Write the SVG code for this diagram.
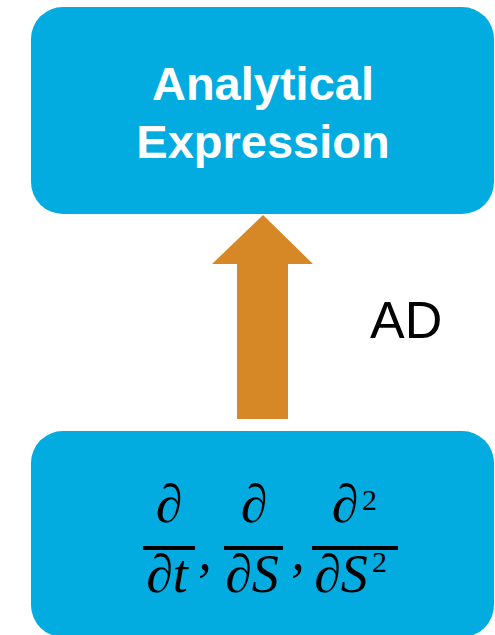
<svg xmlns="http://www.w3.org/2000/svg" width="495" height="635" viewBox="0 0 495 635">
  <style>
    .box { fill: #02ABE0; }
    .title { font-family: "Liberation Sans", Arial, sans-serif; font-weight: bold; font-size: 47px; fill: #FFFFFF; text-anchor: middle; }
    .math { font-family: "Liberation Serif", "Times New Roman", serif; font-style: italic; font-size: 54px; fill: #000000; text-anchor: middle; }
    .sup { font-family: "Liberation Serif", "Times New Roman", serif; font-size: 30px; fill: #000000; }
    .bar { stroke: #000000; stroke-width: 4; }
    .label { font-family: "Liberation Sans", Arial, sans-serif; font-size: 52px; fill: #000000; }
    .arrow { fill: #D78826; }
  </style>
  <rect width="495" height="635" fill="#FFFFFF"/>
  <g id="node-analytical-expression">
    <rect class="box" x="31" y="7" width="463" height="207" rx="32" ry="32"/>
    <text class="title" x="263" y="100">Analytical</text>
    <text class="title" x="263" y="158">Expression</text>
  </g>
  <g id="node-derivatives">
    <rect class="box" x="31" y="431" width="463" height="206" rx="32" ry="32"/>
    <!-- fraction 1 -->
    <text class="math" x="169" y="522">∂</text>
    <line class="bar" x1="143" y1="548" x2="195" y2="548"/>
    <text class="math" x="167" y="592">∂t</text>
    <text class="math" x="205" y="570">,</text>
    <!-- fraction 2 -->
    <text class="math" x="254" y="522">∂</text>
    <line class="bar" x1="224" y1="548" x2="283" y2="548"/>
    <text class="math" x="252" y="592">∂S</text>
    <text class="math" x="298" y="570">,</text>
    <!-- fraction 3 -->
    <text class="math" x="345" y="522">∂</text>
    <text class="sup" x="362" y="510">2</text>
    <line class="bar" x1="312" y1="548" x2="398" y2="548"/>
    <text class="math" x="341" y="592">∂S</text>
    <text class="sup" x="372" y="572">2</text>
  </g>
  <g id="connectors">
    <polygon class="arrow" points="263,215 313,264 288,264 288,419 237,419 237,264 212,264"/>
    <text class="label" x="370" y="338">AD</text>
  </g>
</svg>
